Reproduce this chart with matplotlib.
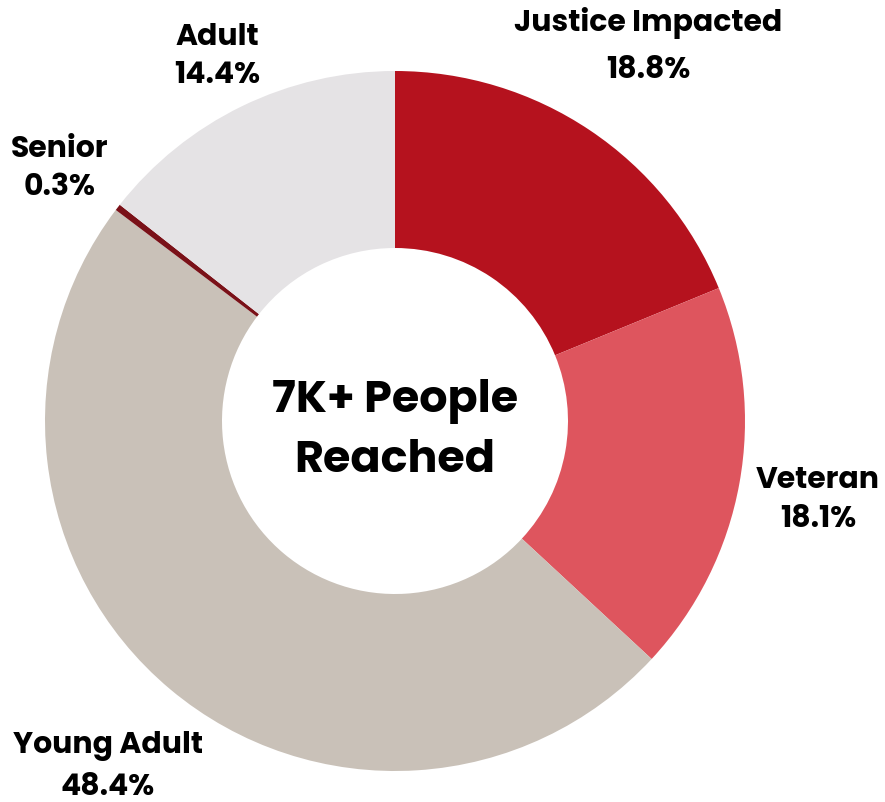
import matplotlib
matplotlib.use("Agg")
import matplotlib.pyplot as plt

# data
categorias = ["Justice Impacted", "Veteran", "Young Adult", "Senior", "Adult"]
percentuais = [18.8, 18.1, 48.4, 0.3, 14.4]
cores = ["#B5121E", "#DE555E", "#C9C1B8", "#7A1118", "#E5E3E5"]
titulo_centro = ["7K+ People", "Reached"]

# label placement in pixels (name line, value line)
pos_rotulos = [
    ((648, 23), (648, 71)),
    ((818, 481), (818, 520)),
    ((108, 746), (108, 788)),
    ((60, 150), (60, 188)),
    ((217, 38), (217, 76)),
]

W, H = 885, 802
fig = plt.figure(figsize=(W / 100, H / 100), dpi=100)
ax = fig.add_axes([0, 0, 1, 1])

ax.pie(percentuais, colors=cores, startangle=90, counterclock=False,
       center=(395, H - 421), radius=350,
       wedgeprops=dict(width=177, edgecolor="none"))

# pie resets the limits, so set them afterwards
ax.set_xlim(0, W)
ax.set_ylim(0, H)
ax.set_aspect("auto")
ax.axis("off")

fonte = ["Poppins", "Lato", "DejaVu Sans"]
for nome, valor, (p1, p2) in zip(categorias, percentuais, pos_rotulos):
    ax.text(p1[0], H - p1[1], nome, ha="center", va="center",
            fontsize=21.5, fontweight="bold", family=fonte, color="black")
    ax.text(p2[0], H - p2[1], f"{valor}%", ha="center", va="center",
            fontsize=21.5, fontweight="bold", family=fonte, color="black")

ax.text(395, H - 401, titulo_centro[0], ha="center", va="center",
        fontsize=32, fontweight="bold", family=fonte, color="black")
ax.text(395, H - 461, titulo_centro[1], ha="center", va="center",
        fontsize=32, fontweight="bold", family=fonte, color="black")

fig.savefig("out.png", dpi=100)
